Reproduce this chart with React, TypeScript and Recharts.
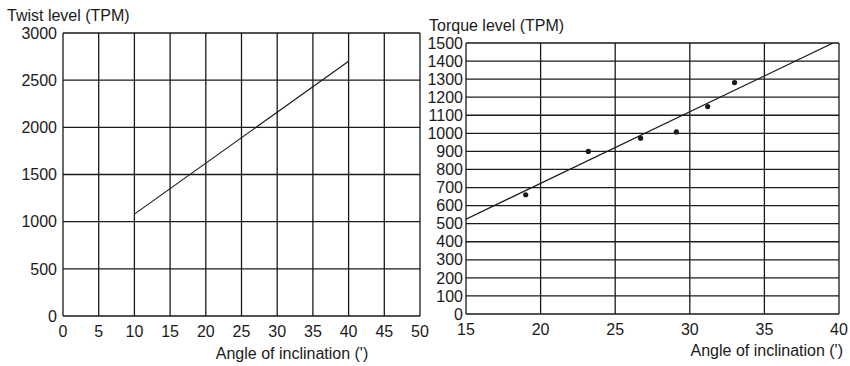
import { ComposedChart, Line, Scatter, XAxis, YAxis, CartesianGrid, Label } from "recharts";

// left panel: twist level vs angle
const twistAngles = [10, 40];
const twistLevels = [1080, 2700];
const twistXTicks = [0, 5, 10, 15, 20, 25, 30, 35, 40, 45, 50];
const twistYTicks = [0, 500, 1000, 1500, 2000, 2500, 3000];

// right panel: torque level vs angle (measured points + fitted line)
const torqueAngles = [19.0, 23.2, 26.7, 29.1, 31.2, 33.0];
const torqueLevels = [660, 900, 973, 1008, 1148, 1281];
const torqueFitAngles = [15, 39.6];
const torqueFitLevels = [525, 1500];
const torqueXTicks = [15, 20, 25, 30, 35, 40];
const torqueYTicks = [0, 100, 200, 300, 400, 500, 600, 700, 800, 900, 1000, 1100, 1200, 1300, 1400, 1500];

const twistData = twistAngles.map((x, i) => ({ x, y: twistLevels[i] }));
const torquePoints = torqueAngles.map((x, i) => ({ x, y: torqueLevels[i] }));
const torqueFit = torqueFitAngles.map((x, i) => ({ x, y: torqueFitLevels[i] }));

const INK = "#1a1a1a";
const tickStyle = { fill: INK, fontSize: 16 };

function Dot(props: any) {
  return <circle cx={props.cx} cy={props.cy} r={2.6} fill={INK} />;
}

export default function App() {
  return (
    <div
      style={{
        position: "absolute",
        left: 0,
        top: 0,
        width: 850,
        height: 366,
        background: "#fff",
        fontFamily: "'Liberation Sans', Arial, sans-serif",
      }}
    >
      <div style={{ position: "absolute", left: 0, top: 0 }}>
        <ComposedChart width={430} height={366} margin={{ top: 33, right: 10, bottom: 0, left: 0 }}>
          <CartesianGrid stroke={INK} strokeWidth={1.3} />
          <XAxis
            type="number"
            dataKey="x"
            domain={[0, 50]}
            ticks={twistXTicks}
            interval={0}
            height={50}
            axisLine={false}
            tickLine={false}
            tickMargin={4}
            tick={tickStyle}
          >
            <Label
              value="Angle of inclination (')"
              content={() => (
                <text x={292} y={359} textAnchor="middle" fill={INK} fontSize={16}>
                  Angle of inclination (')
                </text>
              )}
            />
          </XAxis>
          <YAxis
            type="number"
            domain={[0, 3000]}
            ticks={twistYTicks}
            interval={0}
            width={63}
            axisLine={false}
            tickLine={false}
            tickMargin={0}
            tick={tickStyle}
          >
            <Label
              value="Twist level (TPM)"
              content={() => (
                <text x={7} y={21} fill={INK} fontSize={16}>
                  Twist level (TPM)
                </text>
              )}
            />
          </YAxis>
          <Line
            data={twistData}
            dataKey="y"
            stroke={INK}
            strokeWidth={1.2}
            dot={false}
            isAnimationActive={false}
          />
        </ComposedChart>
      </div>

      <div style={{ position: "absolute", left: 420, top: 0 }}>
        <ComposedChart width={430} height={366} margin={{ top: 43, right: 11, bottom: 0, left: 0 }}>
          <CartesianGrid stroke={INK} strokeWidth={1.3} />
          <XAxis
            type="number"
            dataKey="x"
            domain={[15, 40]}
            ticks={torqueXTicks}
            interval={0}
            height={52}
            axisLine={false}
            tickLine={false}
            tickMargin={4}
            tick={tickStyle}
            allowDataOverflow
          >
            <Label
              value="Angle of inclination (')"
              content={() => (
                <text x={423} y={356} textAnchor="end" fill={INK} fontSize={16}>
                  Angle of inclination (')
                </text>
              )}
            />
          </XAxis>
          <YAxis
            type="number"
            domain={[0, 1500]}
            ticks={torqueYTicks}
            interval={0}
            width={46}
            axisLine={false}
            tickLine={false}
            tickSize={3}
            tickMargin={0}
            tick={tickStyle}
            allowDataOverflow
          >
            <Label
              value="Torque level (TPM)"
              content={() => (
                <text x={9} y={31} fill={INK} fontSize={16}>
                  Torque level (TPM)
                </text>
              )}
            />
          </YAxis>
          <Line
            data={torqueFit}
            dataKey="y"
            stroke={INK}
            strokeWidth={1.2}
            dot={false}
            isAnimationActive={false}
          />
          <Scatter data={torquePoints} dataKey="y" shape={Dot} isAnimationActive={false} />
        </ComposedChart>
      </div>
    </div>
  );
}
